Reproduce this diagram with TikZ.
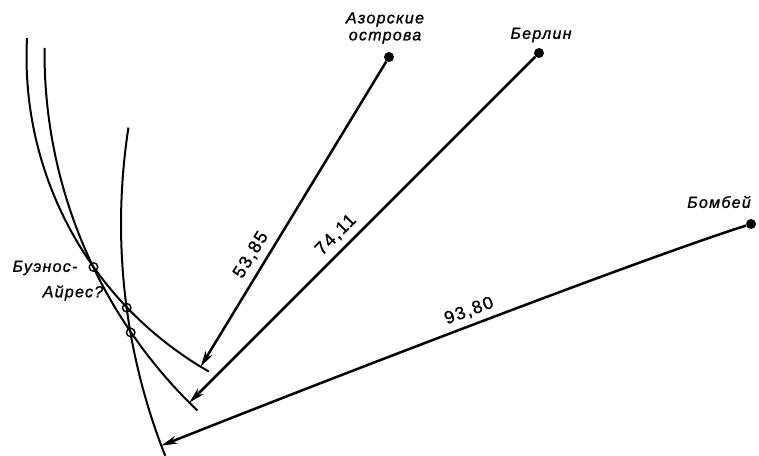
\documentclass[tikz,border=0pt]{standalone}
\usepackage{fontspec}
\setmainfont{Liberation Sans}
\newfontfamily\cityfont[LetterSpace=8,FakeBold=1.2]{Liberation Sans}
\newfontfamily\numfont[LetterSpace=8,FakeBold=1.0]{Liberation Sans}
\usetikzlibrary{arrows.meta,calc}
\begin{document}
\begin{tikzpicture}[x=1pt,y=-1pt,
  arcline/.style={line width=2pt},
  conn/.style={line width=2.5pt,-{Stealth[length=16pt,width=8pt,inset=5pt]}},
  dot/.style={circle,fill=black,inner sep=0pt,minimum size=10pt},
  ring/.style={circle,draw=black,line width=1.4pt,inner sep=0pt,minimum size=8.5pt},
  city/.style={font=\cityfont\itshape\fontsize{16}{20}\selectfont,inner sep=0pt,align=center},
  dist/.style={font=\numfont\fontsize{18}{20}\selectfont,inner sep=0pt}]
\useasboundingbox (0,0) rectangle (759,455);
% city centres
\coordinate (A) at (389,57);
\coordinate (B) at (539,53);
\coordinate (C) at (751,224);
% arcs of equal distance
\draw[arcline] plot[domain=119.8:183,samples=90] ({389+362.5*cos(\x)},{57+362.5*sin(\x)});
\draw[arcline] plot[domain=133.7:180.6,samples=90] ({539+494.5*cos(\x)},{53+494.5*sin(\x)});
\draw[arcline] plot[domain=158.4:188.8,samples=90] ({751+630*cos(\x)},{224+630*sin(\x)});
% arrow tips on the arcs
\coordinate (ta) at ($(A)+(121.3:362.5)$);
\coordinate (tb) at ($(B)+(135:494.5)$);
\coordinate (tc) at ($(C)+(159.4:630)$);
% cities
\node[dot] (az) at (A) {};
\node[dot] (be) at (B) {};
\node[dot] (bo) at (C) {};
\node[city] (laz) at (385,28) {Азорские\\[-3pt]острова};
\node[city] (lbe) at (541,35) {Берлин};
\node[city] (lbo) at (719,202) {Бомбей};
% connectors
\draw[conn] (az) -- (ta);
\draw[conn] (be) -- (tb);
\draw[conn] (bo) .. controls (650,256) and (362,366) .. (tc);
% distances
\node[dist,rotate=58.7] (d1) at (251,255) {53,85};
\node[dist,rotate=45] (d2) at (336,235) {74,11};
\node[dist,rotate=20] (d3) at (469,311) {93,80};
% intersection marks
\node[ring] (x1) at (93.5,267) {};
\node[ring] (x2) at (126.7,307.7) {};
\node[ring] (x3) at (130.7,332.5) {};
\node[city] (lba1) at (45,268) {Буэнос-};
\node[city] (lba2) at (73,293) {Айрес?};
\end{tikzpicture}
\end{document}
